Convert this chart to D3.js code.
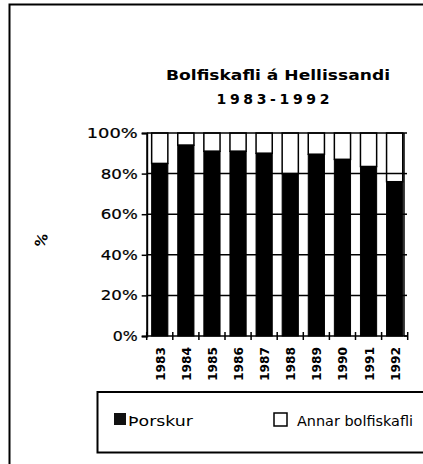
<!DOCTYPE html>
<html><head><meta charset="utf-8">
<script src="https://cdn.jsdelivr.net/npm/d3@7"></script>
<style>body{margin:0;background:#fff}svg{display:block}text{font-family:"DejaVu Sans",sans-serif;fill:#000}</style>
</head><body><svg id="c" width="423" height="464"></svg>
<script>
const years = ["1983","1984","1985","1986","1987","1988","1989","1990","1991","1992"];
const thorskur = [85, 94, 91, 91, 90, 80, 89.5, 87, 83.5, 76];
const annar = thorskur.map(v => 100 - v);
const seriesNames = ["Þorskur", "Annar bolfiskafli"];
const yTicks = [0, 20, 40, 60, 80, 100];

const svg = d3.select("#c");
svg.append("path").attr("d","M9.5,464 V4.5 H423").attr("fill","none").attr("stroke","#000").attr("stroke-width",2);

svg.append("text").attr("x",278).attr("y",80).attr("text-anchor","middle")
  .attr("font-size",14).attr("font-weight","bold").attr("textLength",224).attr("lengthAdjust","spacingAndGlyphs")
  .text("Bolfiskafli á Hellissandi");
svg.append("text").attr("x",273).attr("y",104).attr("text-anchor","middle")
  .attr("font-size",14).attr("font-weight","bold").attr("textLength",113).attr("lengthAdjust","spacing")
  .text("1983-1992");

const x = d3.scaleBand().domain(years).range([146.7, 407.7]).paddingInner(0.38).paddingOuter(0.19);
const y = d3.scaleLinear().domain([0,100]).range([336,133]);

const table = years.map((yr,i)=>({year:yr, a:thorskur[i], b:annar[i]}));
const stack = d3.stack().keys(["a","b"])(table);

const g = svg.append("g");
g.selectAll("rect.a").data(stack[0]).join("rect")
  .attr("x",d=>x(d.data.year)).attr("width",x.bandwidth())
  .attr("y",d=>y(d[1])).attr("height",d=>y(d[0])-y(d[1]))
  .attr("fill","#000").attr("stroke","#000");
g.selectAll("rect.b").data(stack[1]).join("rect")
  .attr("x",d=>x(d.data.year)).attr("width",x.bandwidth())
  .attr("y",d=>y(d[1])).attr("height",d=>y(d[0])-y(d[1]))
  .attr("fill","none").attr("stroke","#000").attr("stroke-width",1.5);

const xl = 146.7, xr = 404;
g.selectAll("line.grid").data(yTicks.filter(t=>t>0)).join("line")
  .attr("x1",xl).attr("x2",xr).attr("y1",d=>y(d)).attr("y2",d=>y(d))
  .attr("stroke","#000").attr("stroke-width",1.5);
g.append("line").attr("x1",xr).attr("x2",xr).attr("y1",y(100)).attr("y2",y(0)).attr("stroke","#000").attr("stroke-width",1.5);
g.selectAll("line.rt").data(yTicks).join("line")
  .attr("x1",xr).attr("x2",xr+3).attr("y1",d=>y(d)).attr("y2",d=>y(d)).attr("stroke","#000").attr("stroke-width",1.5);

const yAxis = d3.axisLeft(y).tickValues(yTicks).tickFormat(d=>d+"%").tickSize(5).tickPadding(4);
const ya = svg.append("g").attr("transform",`translate(${xl},0)`).call(yAxis);
ya.select(".domain").attr("stroke-width",2);
ya.selectAll(".tick line").attr("stroke-width",1.5);
ya.selectAll(".tick text").attr("font-size",14).attr("fill","#000").attr("stroke","#000").attr("stroke-width",0.2)
  .attr("textLength",d=>d===100?51:(d===0?25:37)).attr("lengthAdjust","spacingAndGlyphs");

const bounds = years.map(yr=>x(yr)-x.step()*x.paddingInner()/2).concat([407.7]);
svg.append("line").attr("x1",xl).attr("x2",407.7).attr("y1",336).attr("y2",336).attr("stroke","#000").attr("stroke-width",1.5);
svg.selectAll("line.xt").data(bounds).join("line")
  .attr("x1",d=>d).attr("x2",d=>d).attr("y1",332).attr("y2",340).attr("stroke","#000").attr("stroke-width",1.5);
svg.selectAll("text.xl").data(years).join("text")
  .attr("transform",d=>`translate(${x(d)+x.bandwidth()/2+5},347) rotate(-90)`)
  .attr("text-anchor","end").attr("font-size",13).attr("font-weight","bold").attr("textLength",34).attr("lengthAdjust","spacingAndGlyphs")
  .text(d=>d);

svg.append("text").attr("transform","translate(46,242) rotate(-70)").attr("text-anchor","middle")
  .attr("font-size",14).attr("font-weight","bold").text("%");

svg.append("rect").attr("x",97.5).attr("y",392).attr("width",340).attr("height",60.5)
  .attr("fill","none").attr("stroke","#000").attr("stroke-width",2);
svg.append("rect").attr("x",114).attr("y",413).attr("width",12).attr("height",12).attr("fill","#111");
svg.append("text").attr("x",128).attr("y",426).attr("font-size",14).attr("textLength",65).attr("lengthAdjust","spacingAndGlyphs").text(seriesNames[0]);
svg.append("rect").attr("x",274).attr("y",413).attr("width",13).attr("height",13).attr("fill","none").attr("stroke","#000").attr("stroke-width",1.5);
svg.append("text").attr("x",297).attr("y",426).attr("font-size",14).attr("textLength",116).attr("lengthAdjust","spacingAndGlyphs").text(seriesNames[1]);
</script></body></html>
